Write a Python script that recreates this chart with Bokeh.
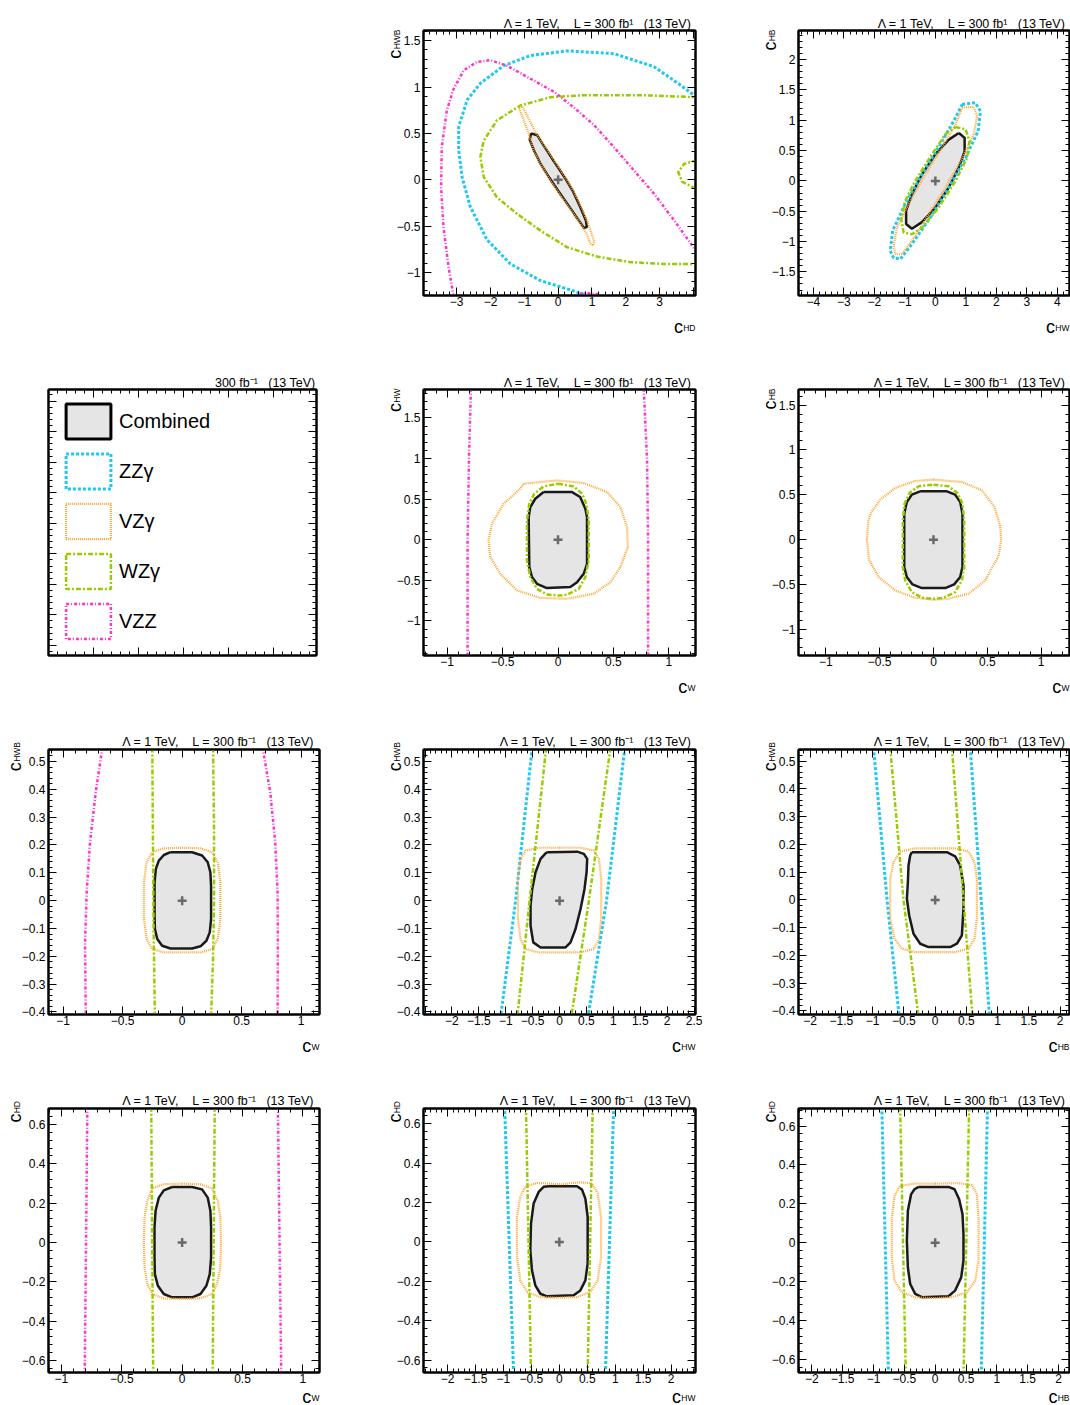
import math
from bokeh.plotting import figure
from bokeh.layouts import column, row
from bokeh.models import (Range1d, SingleIntervalTicker, LinearAxis,
                          CustomJSTickFormatter, CustomLabelingPolicy, Spacer,
                          Legend, LegendItem)
from bokeh.core.properties import value
from bokeh.embed import file_html
from bokeh.resources import INLINE

FONT = "Liberation Sans"
NAN = float("nan")

# ------------------------------------------------------------------ data
# Panel A : c_HD (x) vs c_HWB (y)
A_comb_x = [-0.80, -0.62, -0.43, -0.13, 0.22, 0.43, 0.66, 0.82, 0.85, 0.76, 0.61, 0.31, 0.02, -0.26, -0.52, -0.72, -0.84]
A_comb_y = [0.50, 0.48, 0.37, 0.20, 0.01, -0.12, -0.30, -0.44, -0.51, -0.52, -0.44, -0.28, -0.13, 0.02, 0.17, 0.32, 0.43]
A_vzg_x = [-1.16, -1.05, -0.67, -0.43, -0.12, 0.24, 0.45, 0.69, 0.87, 1.07, 1.04, 0.97, 0.82, 0.62, 0.31, 0.01, -0.28, -0.54, -0.74, -0.88, -1.10]
A_vzg_y = [0.78, 0.79, 0.51, 0.38, 0.21, 0.01, -0.12, -0.30, -0.46, -0.67, -0.71, -0.70, -0.57, -0.45, -0.29, -0.14, 0.02, 0.18, 0.33, 0.51, 0.72]
A_wzg_x = [4.10, 2.64, 0.66, -0.23, -1.12, -1.81, -2.20, -2.30, -2.20, -1.81, -1.21, -0.52, 0.27, 1.15, 2.14, 3.13, 4.10]
A_wzg_y = [0.89, 0.91, 0.91, 0.89, 0.80, 0.64, 0.42, 0.245, 0.03, -0.19, -0.37, -0.55, -0.73, -0.83, -0.89, -0.91, -0.91]
A_wzg2_x = [4.10, 3.72, 3.55, 3.67, 4.10]
A_wzg2_y = [0.21, 0.17, 0.08, -0.025, -0.10]
A_zzg_x = [4.10, 3.62, 2.83, 1.65, 0.27, -0.82, -1.61, -2.30, -2.69, -2.94, -2.94, -2.84, -2.60, -2.10, -1.41, -0.52, 0.37, 0.96]
A_zzg_y = [0.89, 1.02, 1.22, 1.36, 1.39, 1.34, 1.23, 1.04, 0.86, 0.57, 0.32, 0.03, -0.29, -0.65, -0.91, -1.09, -1.19, -1.26]
A_vzz_x = [-3.09, -3.24, -3.39, -3.46, -3.44, -3.29, -3.09, -2.79, -2.40, -2.00, -1.51, -0.92, -0.13, 0.46, 1.06, 1.65, 2.24, 2.83, 3.43, 4.10]
A_vzz_y = [-1.26, -0.94, -0.51, -0.08, 0.35, 0.75, 0.98, 1.18, 1.27, 1.29, 1.23, 1.11, 0.95, 0.78, 0.59, 0.35, 0.10, -0.15, -0.44, -0.78]
A_vzz2_x = [0.41, 0.76, 1.25]
A_vzz2_y = [-1.26, -1.22, -1.24]

# Panel B : c_HW (x) vs c_HB (y)
B_comb_x = [0.77, 0.96, 0.96, 0.77, 0.44, 0.0, -0.44, -0.77, -0.96, -0.96, -0.77, -0.44, 0.0, 0.44]
B_comb_y = [0.79, 0.71, 0.49, 0.22, -0.11, -0.44, -0.68, -0.79, -0.71, -0.49, -0.22, 0.11, 0.44, 0.68]
B_wzg_x = [0.66, 0.99, 1.12, 1.04, 0.66, 0.11, -0.44, -0.77, -1.04, -1.12, -0.99, -0.66, -0.11, 0.33]
B_wzg_y = [0.89, 0.85, 0.66, 0.38, 0.0, -0.44, -0.77, -0.88, -0.85, -0.63, -0.33, 0.0, 0.44, 0.77]
B_vzg_x = [0.88, 1.26, 1.37, 1.26, 0.88, 0.33, -0.22, -0.77, -1.10, -1.31, -1.37, -1.26, -0.88, -0.33, 0.22, 0.66]
B_vzg_y = [1.21, 1.22, 1.07, 0.77, 0.38, -0.11, -0.55, -0.99, -1.21, -1.21, -1.07, -0.77, -0.38, 0.11, 0.55, 0.93]
B_zzg_x = [0.88, 1.31, 1.48, 1.40, 0.99, 0.44, -0.16, -0.77, -1.15, -1.37, -1.48, -1.40, -0.99, -0.44, 0.16, 0.66]
B_zzg_y = [1.26, 1.29, 1.15, 0.82, 0.38, -0.11, -0.60, -1.04, -1.29, -1.27, -1.15, -0.82, -0.38, 0.11, 0.60, 1.04]

# Panel C : c_W (x) vs c_HW (y)
C_comb_x = [-0.13, 0.127, 0.20, 0.247, 0.262, 0.262, 0.232, 0.172, 0.111, -0.10, -0.19, -0.235, -0.259, -0.265, -0.25, -0.205]
C_comb_y = [0.587, 0.587, 0.526, 0.382, 0.279, -0.296, -0.419, -0.522, -0.583, -0.595, -0.542, -0.46, -0.337, 0.279, 0.402, 0.505]
C_wzg_x = [0.0, 0.142, 0.217, 0.256, 0.277, 0.277, 0.247, 0.187, 0.081, 0.0, -0.099, -0.19, -0.25, -0.28, -0.28, -0.259, -0.214, -0.13]
C_wzg_y = [0.69, 0.657, 0.567, 0.444, 0.238, -0.255, -0.46, -0.604, -0.678, -0.686, -0.674, -0.604, -0.46, -0.255, 0.238, 0.444, 0.567, 0.657]
C_vzg_x = [-0.31, -0.009, 0.232, 0.443, 0.563, 0.623, 0.63, 0.563, 0.473, 0.322, 0.081, -0.16, -0.37, -0.521, -0.611, -0.627, -0.596, -0.491, -0.34]
C_vzg_y = [0.69, 0.731, 0.698, 0.587, 0.402, 0.156, -0.09, -0.337, -0.522, -0.665, -0.727, -0.715, -0.624, -0.419, -0.214, -0.008, 0.197, 0.444, 0.628]
C_vzz_l_x = [-0.786, -0.804, -0.816, -0.816]
C_vzz_r_x = [0.774, 0.804, 0.813, 0.813]
C_vzz_y = [1.86, 0.977, -0.008, -1.43]

# Panel D : c_W (x) vs c_HB (y)
D_comb_x = [-0.124, 0.124, 0.201, 0.248, 0.269, 0.269, 0.248, 0.192, 0.108, -0.108, -0.195, -0.248, -0.272, -0.272, -0.248, -0.201]
D_comb_y = [0.539, 0.539, 0.502, 0.42, 0.29, -0.305, -0.416, -0.498, -0.539, -0.539, -0.498, -0.416, -0.305, 0.29, 0.42, 0.502]
D_wzg_x = [0.0, 0.139, 0.223, 0.269, 0.285, 0.285, 0.263, 0.201, 0.093, 0.0, -0.108, -0.201, -0.263, -0.285, -0.285, -0.269, -0.223, -0.139]
D_wzg_y = [0.613, 0.595, 0.52, 0.401, 0.216, -0.305, -0.454, -0.584, -0.647, -0.658, -0.647, -0.584, -0.454, -0.305, 0.216, 0.401, 0.52, 0.595]
D_vzg_x = [0.0, 0.263, 0.449, 0.567, 0.619, 0.628, 0.604, 0.557, 0.48, 0.325, 0.139, 0.0, -0.17, -0.356, -0.511, -0.598, -0.619, -0.604, -0.573, -0.495, -0.356, -0.17]
D_vzg_y = [0.669, 0.643, 0.55, 0.364, 0.149, 0.0, -0.186, -0.279, -0.454, -0.602, -0.658, -0.669, -0.647, -0.565, -0.416, -0.223, 0.0, 0.223, 0.316, 0.446, 0.576, 0.654]

# Panel F : c_W (x) vs c_HWB (y)
F_comb_x = [-0.098, 0.084, 0.168, 0.215, 0.237, 0.243, 0.243, 0.232, 0.204, 0.154, 0.084, -0.098, -0.168, -0.209, -0.229, -0.232, -0.232, -0.221, -0.196, -0.154]
F_comb_y = [0.174, 0.174, 0.162, 0.138, 0.102, 0.054, -0.066, -0.114, -0.144, -0.164, -0.172, -0.172, -0.162, -0.138, -0.102, -0.054, 0.066, 0.114, 0.144, 0.164]
F_vzg_x = [0.0, 0.154, 0.251, 0.299, 0.321, 0.321, 0.299, 0.251, 0.154, 0.0, -0.154, -0.251, -0.299, -0.321, -0.321, -0.299, -0.251, -0.154]
F_vzg_y = [0.19, 0.188, 0.174, 0.138, 0.066, -0.066, -0.138, -0.174, -0.186, -0.186, -0.186, -0.174, -0.138, -0.066, 0.066, 0.138, 0.174, 0.188]
F_wzg_l_x = [-0.251, -0.246, -0.24, -0.229]
F_wzg_l_y = [0.55, 0.25, -0.1, -0.42]
F_wzg_r_x = [0.26, 0.268, 0.268, 0.26, 0.243]
F_wzg_r_y = [0.55, 0.25, 0.0, -0.2, -0.42]
F_vzz_l_x = [-0.67, -0.726, -0.774, -0.802, -0.816, -0.81]
F_vzz_r_x = [0.676, 0.74, 0.782, 0.802, 0.804, 0.802]
F_vzz_y = [0.55, 0.39, 0.21, 0.03, -0.15, -0.42]

# Panel G : c_HW (x) vs c_HWB (y)
G_comb_x = [-0.229, 0.328, 0.452, 0.514, 0.502, 0.464, 0.39, 0.297, 0.204, 0.111, -0.353, -0.489, -0.539, -0.539, -0.508, -0.446, -0.353, -0.26]
G_comb_y = [0.174, 0.176, 0.168, 0.15, 0.102, 0.042, -0.03, -0.102, -0.15, -0.168, -0.168, -0.15, -0.09, -0.018, 0.042, 0.102, 0.15, 0.17]
G_vzg_x = [0.0, 0.39, 0.638, 0.731, 0.774, 0.774, 0.731, 0.638, 0.39, 0.0, -0.384, -0.632, -0.724, -0.774, -0.774, -0.724, -0.632, -0.384]
G_vzg_y = [0.19, 0.19, 0.18, 0.15, 0.078, -0.066, -0.138, -0.174, -0.186, -0.186, -0.186, -0.174, -0.138, -0.066, 0.078, 0.15, 0.18, 0.19]
G_wzg_l_x = [-0.248, -0.557, -0.786]
G_wzg_r_x = [0.947, 0.545, 0.217]
G_zzg_l_x = [-0.508, -0.817, -1.096]
G_zzg_r_x = [1.214, 0.873, 0.526]
G_line_y = [0.55, 0.0, -0.42]

# Panel H : c_HB (x) vs c_HWB (y)
H_comb_x = [-0.373, 0.187, 0.32, 0.40, 0.453, 0.453, 0.427, 0.347, 0.24, -0.107, -0.24, -0.347, -0.416, -0.453, -0.437, -0.427, -0.40]
H_comb_y = [0.172, 0.172, 0.157, 0.124, 0.052, -0.032, -0.128, -0.158, -0.17, -0.17, -0.158, -0.122, -0.056, 0.004, 0.064, 0.124, 0.16]
H_vzg_x = [0.0, 0.32, 0.533, 0.629, 0.667, 0.667, 0.629, 0.533, 0.32, 0.0, -0.32, -0.533, -0.651, -0.72, -0.72, -0.667, -0.56, -0.32]
H_vzg_y = [0.186, 0.186, 0.174, 0.136, 0.076, -0.068, -0.14, -0.176, -0.188, -0.188, -0.188, -0.176, -0.14, -0.068, 0.076, 0.136, 0.174, 0.186]
H_wzg_l_x = [-0.72, -0.507, -0.267]
H_wzg_r_x = [0.267, 0.453, 0.597]
H_zzg_l_x = [-0.987, -0.77, -0.576]
H_zzg_r_x = [0.56, 0.736, 0.869]
H_line_y = [0.55, 0.0, -0.42]

# Panel I : c_W (x) vs c_HD (y)
I_comb_x = [-0.083, 0.083, 0.165, 0.212, 0.234, 0.24, 0.24, 0.229, 0.201, 0.152, 0.083, -0.083, -0.152, -0.201, -0.226, -0.229, -0.229, -0.22, -0.193, -0.152]
I_comb_y = [0.282, 0.282, 0.27, 0.228, 0.161, 0.076, -0.076, -0.161, -0.22, -0.262, -0.279, -0.279, -0.262, -0.22, -0.161, -0.076, 0.076, 0.161, 0.228, 0.265]
I_vzg_x = [0.0, 0.152, 0.248, 0.295, 0.317, 0.322, 0.317, 0.289, 0.248, 0.152, 0.0, -0.152, -0.248, -0.289, -0.311, -0.317, -0.311, -0.289, -0.248, -0.152]
I_vzg_y = [0.299, 0.296, 0.275, 0.211, 0.127, 0.0, -0.127, -0.211, -0.262, -0.284, -0.287, -0.284, -0.262, -0.211, -0.127, 0.0, 0.127, 0.211, 0.275, 0.296]
I_wzg_l_x = [-0.256, -0.24]
I_wzg_r_x = [0.27, 0.253]
I_vzz_l_x = [-0.785, -0.807]
I_vzz_r_x = [0.793, 0.821]
I_line_y = [0.69, -0.67]

# Panel J : c_HW (x) vs c_HD (y)
J_comb_x = [-0.191, 0.316, 0.406, 0.466, 0.507, 0.507, 0.466, 0.376, 0.257, -0.221, -0.34, -0.43, -0.49, -0.519, -0.507, -0.46, -0.37, -0.281]
J_comb_y = [0.283, 0.283, 0.266, 0.22, 0.127, -0.11, -0.195, -0.246, -0.271, -0.276, -0.263, -0.22, -0.144, -0.042, 0.093, 0.195, 0.254, 0.28]
J_vzg_x = [-0.4, 0.018, 0.376, 0.585, 0.687, 0.746, 0.746, 0.687, 0.555, 0.316, 0.0, -0.34, -0.579, -0.699, -0.758, -0.758, -0.699, -0.609]
J_vzg_y = [0.3, 0.293, 0.303, 0.297, 0.246, 0.127, -0.076, -0.195, -0.254, -0.28, -0.283, -0.28, -0.254, -0.195, -0.076, 0.127, 0.229, 0.28]
J_wzg_l_x = [-0.597, -0.507]
J_wzg_r_x = [0.597, 0.507]
J_zzg_l_x = [-0.979, -0.818]
J_zzg_r_x = [0.973, 0.824]
J_line_y = [0.69, -0.67]

# Panel K : c_HB (x) vs c_HD (y)
K_comb_x = [-0.27, 0.216, 0.314, 0.389, 0.443, 0.459, 0.459, 0.422, 0.324, 0.216, -0.216, -0.324, -0.405, -0.443, -0.459, -0.443, -0.389, -0.335]
K_comb_y = [0.287, 0.287, 0.275, 0.224, 0.147, 0.044, -0.092, -0.178, -0.246, -0.275, -0.28, -0.263, -0.212, -0.126, 0.01, 0.164, 0.25, 0.275]
K_vzg_x = [0.0, 0.378, 0.595, 0.676, 0.703, 0.703, 0.649, 0.514, 0.27, 0.0, -0.324, -0.541, -0.659, -0.703, -0.703, -0.659, -0.568, -0.324]
K_vzg_y = [0.304, 0.306, 0.297, 0.25, 0.13, -0.092, -0.195, -0.255, -0.28, -0.285, -0.28, -0.255, -0.195, -0.075, 0.13, 0.241, 0.292, 0.304]
K_wzg_l_x = [-0.568, -0.476]
K_wzg_r_x = [0.551, 0.459]
K_zzg_l_x = [-0.865, -0.757]
K_zzg_r_x = [0.849, 0.746]
K_line_y = [0.70, -0.68]

LEGEND_LABELS = ["Combined", "ZZγ", "VZγ", "WZγ", "VZZ"]
NB = "\u00a0"
TITLE_A = "Λ = 1 TeV," + NB * 4 + "L = 300 fb¹" + NB * 3 + "(13 TeV)"
TITLE_B = "Λ = 1 TeV," + NB * 4 + "L = 300 fb⁻¹" + NB * 3 + "(13 TeV)"
TITLE_LEG = "300 fb⁻¹" + NB * 3 + "(13 TeV)"

# ------------------------------------------------------------------ styles / geometry
STYLE = {
    "zzg": dict(line_color="#1ec8f5", line_width=3, line_dash="3 2"),
    "vzg": dict(line_color="#ffa533", line_width=2.2, line_dash="1 1"),
    "wzg": dict(line_color="#99cc00", line_width=2.5, line_dash="5 2 2 2"),
    "vzz": dict(line_color="#ff33cc", line_width=2.5, line_dash="3 2 1 2"),
}
COMB_FILL = "#e5e5e5"
COMB_LINE = "#1a1a1a"

COL_W = [383, 375, 312]
COL_BL = [48, 40, 40]
COL_BR = [64, 63, 1]
ROW_H = [368, 360, 360, 317]
ROW_BT = [30, 21, 21, 20]
ROW_BB = [73, 73, 74, 33]
TITLE_DX = [-4.7, -3.3, -3.3]
TITLE_DY = [6.7, 6.6, 7.8, 8.0]
YLAB_TOP = [1.0, 1.0, 7.5, 7.5]
YLAB_CX = [-33.5, -28.3, -28.3]
XLAB_CB = [31, 31, 31, 24]
TITLE_FS = "12.5px"
C_FS = "18px"

SUBW = {"H": 0.722, "D": 0.722, "W": 0.944, "B": 0.667}
SUB_FS = 8.5

NO_LABELS = CustomLabelingPolicy(code="""
for (const i of Array.from(indices)) indices.unset(i)
return indices
""")


def subw(s):
    return sum(SUBW[c] for c in s) * SUB_FS


def make_formatter(hide):
    return CustomJSTickFormatter(args=dict(hide=list(hide)), code="""
for (const h of hide) { if (Math.abs(h - tick) < 1e-6) return ""; }
const v = Math.round(tick * 10000) / 10000;
const s = (v === 0) ? "0" : String(v);
return s.replace("-", "\\u2212");
""")


def style_axis(ax, interval, labels, hide=(), standoff=2):
    ax.ticker = SingleIntervalTicker(interval=interval, num_minor_ticks=5)
    ax.major_tick_in = 8
    ax.major_tick_out = 0
    ax.minor_tick_in = 4
    ax.minor_tick_out = 0
    ax.major_tick_line_color = "black"
    ax.minor_tick_line_color = "black"
    ax.axis_line_color = "black"
    ax.axis_line_width = 2
    if labels:
        ax.formatter = make_formatter(hide)
        ax.major_label_text_font = FONT
        ax.major_label_text_font_size = "12px"
        ax.major_label_text_color = "black"
        ax.major_label_standoff = standoff
    else:
        ax.major_label_text_font_size = "0px"
        ax.major_label_standoff = 0
        ax.major_label_policy = NO_LABELS


def base_fig(r, c, xr, yr, xint, yint, labels=True, hide_x=(), br=None):
    p = figure(width=COL_W[c], height=ROW_H[r],
               x_range=Range1d(*xr), y_range=Range1d(*yr),
               output_backend="svg", toolbar_location=None,
               min_border_left=COL_BL[c],
               min_border_right=COL_BR[c] if br is None else br,
               min_border_top=ROW_BT[r], min_border_bottom=ROW_BB[r])
    p.background_fill_color = "white"
    p.border_fill_color = "white"
    p.outline_line_color = "black"
    p.outline_line_width = 2
    p.xgrid.visible = False
    p.ygrid.visible = False
    style_axis(p.xaxis[0], xint, labels, hide_x, standoff=1)
    style_axis(p.yaxis[0], yint, labels, (), standoff=3)
    top = LinearAxis()
    right = LinearAxis()
    style_axis(top, xint, False)
    style_axis(right, yint, False)
    p.add_layout(top, "above")
    p.add_layout(right, "right")
    return p


def add_text(p, xr, yr, corner, dx, dy, text, size, align="left", angle=0.0):
    """Text anchored at a corner of the plot frame, shifted by (dx, dy) pixels."""
    x = xr[0] if corner[0] == "left" else xr[1]
    y = yr[1] if corner[1] == "top" else yr[0]
    p.text(x=[x], y=[y], text=[text], x_offset=dx, y_offset=dy, angle=angle,
           text_font=value(FONT), text_font_size=value(size), text_color="black",
           text_align=value(align), text_baseline=value("alphabetic"), level="overlay")


def make_panel(spec):
    r, c = spec["pos"]
    xr, yr = spec["xr"], spec["yr"]
    p = base_fig(r, c, xr, yr, spec["xint"], spec["yint"], hide_x=spec.get("hide_x", ()))
    cx, cy = spec["comb"]
    p.patch(cx, cy, fill_color=COMB_FILL, line_color=None)
    p.line(cx + [cx[0]], cy + [cy[0]], line_color=COMB_LINE, line_width=2.5)
    for key, xs, ys, closed in spec["curves"]:
        if closed:
            xs = xs + [xs[0]]
            ys = ys + [ys[0]]
        p.line(xs, ys, **STYLE[key])
    p.scatter([0], [0], marker="cross", size=9, line_width=2.5, line_color="#6a6a6a")
    # title
    add_text(p, xr, yr, ("right", "top"), TITLE_DX[c], -TITLE_DY[r], spec["title"], TITLE_FS, "right")
    # x axis title  c_{sub}
    xs_ = spec["xlab"]
    add_text(p, xr, yr, ("right", "bottom"), 0, XLAB_CB[r] + 1.2, xs_, "%gpx" % SUB_FS, "right")
    add_text(p, xr, yr, ("right", "bottom"), -(subw(xs_) + 0.3), XLAB_CB[r], "c", C_FS, "right")
    # y axis title (rotated)
    ys_ = spec["ylab"]
    add_text(p, xr, yr, ("left", "top"), YLAB_CX[c] + 1.7, -YLAB_TOP[r], ys_, "%gpx" % SUB_FS, "right",
             angle=math.pi / 2)
    add_text(p, xr, yr, ("left", "top"), YLAB_CX[c], -YLAB_TOP[r] + subw(ys_) + 0.3, "c", C_FS, "right",
             angle=math.pi / 2)
    return p


PANELS = {
    "A": dict(pos=(0, 1), xr=(-3.98, 4.06), yr=(-1.25, 1.61), xint=1, yint=0.5, hide_x=(4,),
              title=TITLE_A, xlab="HD", ylab="HWB", comb=(A_comb_x, A_comb_y),
              curves=[("zzg", A_zzg_x, A_zzg_y, False), ("vzg", A_vzg_x, A_vzg_y, True),
                      ("wzg", A_wzg_x, A_wzg_y, False), ("wzg", A_wzg2_x, A_wzg2_y, False),
                      ("vzz", A_vzz_x, A_vzz_y, False), ("vzz", A_vzz2_x, A_vzz2_y, False)]),
    "B": dict(pos=(0, 2), xr=(-4.49, 4.40), yr=(-1.89, 2.48), xint=1, yint=0.5,
              title=TITLE_A, xlab="HW", ylab="HB", comb=(B_comb_x, B_comb_y),
              curves=[("zzg", B_zzg_x, B_zzg_y, True), ("vzg", B_vzg_x, B_vzg_y, True),
                      ("wzg", B_wzg_x, B_wzg_y, True)]),
    "C": dict(pos=(1, 1), xr=(-1.214, 1.241), yr=(-1.425, 1.85), xint=0.5, yint=0.5,
              title=TITLE_A, xlab="W", ylab="HW", comb=(C_comb_x, C_comb_y),
              curves=[("vzg", C_vzg_x, C_vzg_y, True), ("wzg", C_wzg_x, C_wzg_y, True),
                      ("vzz", C_vzz_l_x, C_vzz_y, False), ("vzz", C_vzz_r_x, C_vzz_y, False)]),
    "D": dict(pos=(1, 2), xr=(-1.254, 1.263), yr=(-1.29, 1.673), xint=0.5, yint=0.5,
              title=TITLE_B, xlab="W", ylab="HB", comb=(D_comb_x, D_comb_y),
              curves=[("vzg", D_vzg_x, D_vzg_y, True), ("wzg", D_wzg_x, D_wzg_y, True)]),
    "F": dict(pos=(2, 0), xr=(-1.123, 1.154), yr=(-0.409, 0.543), xint=0.5, yint=0.1,
              title=TITLE_B, xlab="W", ylab="HWB", comb=(F_comb_x, F_comb_y),
              curves=[("vzg", F_vzg_x, F_vzg_y, True),
                      ("wzg", F_wzg_l_x, F_wzg_l_y, False), ("wzg", F_wzg_r_x, F_wzg_r_y, False),
                      ("vzz", F_vzz_l_x, F_vzz_y, False), ("vzz", F_vzz_r_x, F_vzz_y, False)]),
    "G": dict(pos=(2, 1), xr=(-2.528, 2.526), yr=(-0.409, 0.543), xint=0.5, yint=0.1, hide_x=(-2.5,),
              title=TITLE_B, xlab="HW", ylab="HWB", comb=(G_comb_x, G_comb_y),
              curves=[("zzg", G_zzg_l_x, G_line_y, False), ("zzg", G_zzg_r_x, G_line_y, False),
                      ("vzg", G_vzg_x, G_vzg_y, True),
                      ("wzg", G_wzg_l_x, G_line_y, False), ("wzg", G_wzg_r_x, G_line_y, False)]),
    "H": dict(pos=(2, 2), xr=(-2.187, 2.149), yr=(-0.413, 0.542), xint=0.5, yint=0.1,
              title=TITLE_B, xlab="HB", ylab="HWB", comb=(H_comb_x, H_comb_y),
              curves=[("zzg", H_zzg_l_x, H_line_y, False), ("zzg", H_zzg_r_x, H_line_y, False),
                      ("vzg", H_vzg_x, H_vzg_y, True),
                      ("wzg", H_wzg_l_x, H_line_y, False), ("wzg", H_wzg_r_x, H_line_y, False)]),
    "I": dict(pos=(3, 0), xr=(-1.107, 1.138), yr=(-0.661, 0.681), xint=0.5, yint=0.2,
              title=TITLE_B, xlab="W", ylab="HD", comb=(I_comb_x, I_comb_y),
              curves=[("vzg", I_vzg_x, I_vzg_y, True),
                      ("wzg", I_wzg_l_x, I_line_y, False), ("wzg", I_wzg_r_x, I_line_y, False),
                      ("vzz", I_vzz_l_x, I_line_y, False), ("vzz", I_vzz_r_x, I_line_y, False)]),
    "J": dict(pos=(3, 1), xr=(-2.43, 2.436), yr=(-0.663, 0.678), xint=0.5, yint=0.2,
              title=TITLE_B, xlab="HW", ylab="HD", comb=(J_comb_x, J_comb_y),
              curves=[("zzg", J_zzg_l_x, J_line_y, False), ("zzg", J_zzg_r_x, J_line_y, False),
                      ("vzg", J_vzg_x, J_vzg_y, True),
                      ("wzg", J_wzg_l_x, J_line_y, False), ("wzg", J_wzg_r_x, J_line_y, False)]),
    "K": dict(pos=(3, 2), xr=(-2.216, 2.178), yr=(-0.667, 0.69), xint=0.5, yint=0.2,
              title=TITLE_B, xlab="HB", ylab="HD", comb=(K_comb_x, K_comb_y),
              curves=[("zzg", K_zzg_l_x, K_line_y, False), ("zzg", K_zzg_r_x, K_line_y, False),
                      ("vzg", K_vzg_x, K_vzg_y, True),
                      ("wzg", K_wzg_l_x, K_line_y, False), ("wzg", K_wzg_r_x, K_line_y, False)]),
}

figs = {k: make_panel(v) for k, v in PANELS.items()}

# ------------------------------------------------------------------ legend panel
LEG_XR = (0, 5.96)
LEG_YR = (-0.33, 8.38)
leg = base_fig(1, 0, LEG_XR, LEG_YR, 1, 1, labels=False, br=67)
r_comb = leg.patch([NAN], [NAN], fill_color=COMB_FILL, line_color="black", line_width=3)
r_styles = [leg.patch([NAN], [NAN], fill_color=None, **STYLE[k]) for k in ["zzg", "vzg", "wzg", "vzz"]]
items = [LegendItem(label=lab, renderers=[rr]) for lab, rr in zip(LEGEND_LABELS, [r_comb] + r_styles)]
legend = Legend(items=items, location=(12, 12), orientation="vertical",
                glyph_width=56, glyph_height=44, spacing=6, label_standoff=3,
                padding=0, margin=0, border_line_color=None, background_fill_alpha=0,
                label_text_font=FONT, label_text_font_size="20px", label_text_color="black")
leg.add_layout(legend)
add_text(leg, LEG_XR, LEG_YR, ("right", "top"), -1, -TITLE_DY[1], TITLE_LEG, TITLE_FS, "right")

layout = column(
    row(Spacer(width=COL_W[0], height=ROW_H[0]), figs["A"], figs["B"]),
    row(leg, figs["C"], figs["D"]),
    row(figs["F"], figs["G"], figs["H"]),
    row(figs["I"], figs["J"], figs["K"]),
)

open("out.html", "w").write(file_html(layout, INLINE))
